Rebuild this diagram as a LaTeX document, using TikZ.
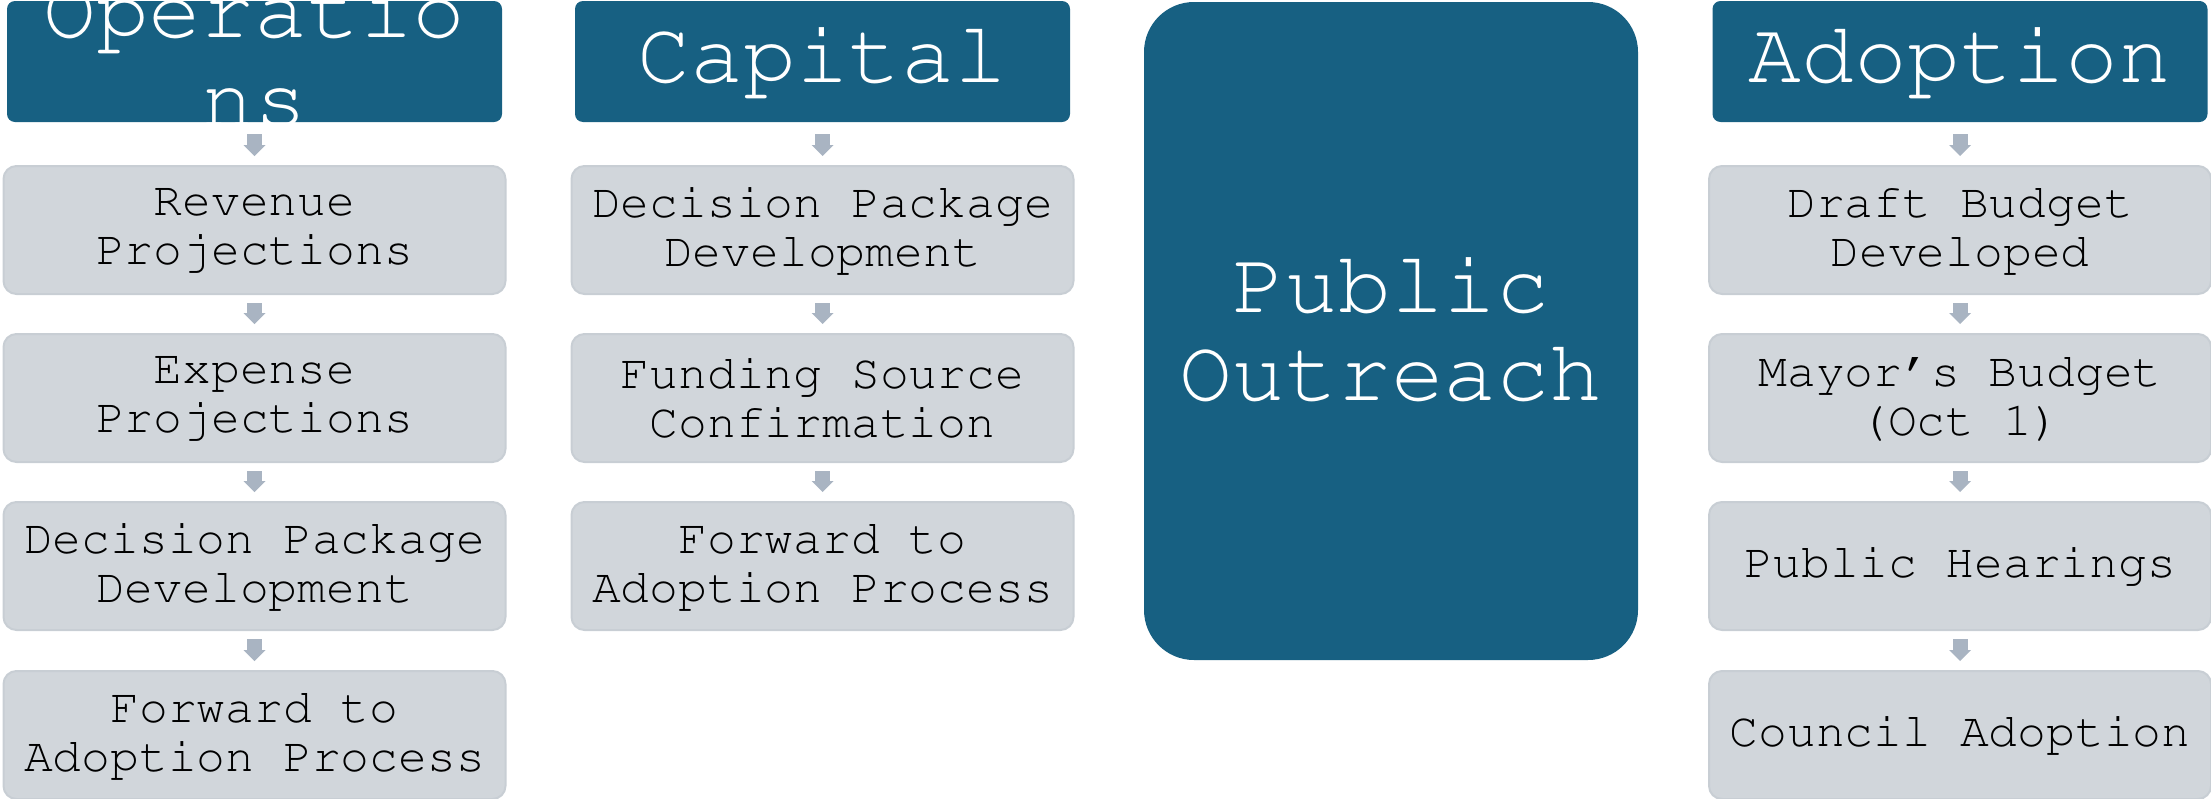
\documentclass[tikz,border=0pt]{standalone}
\usepackage[T1]{fontenc}
\usetikzlibrary{arrows.meta}
\newcommand\courfont{\fontencoding{T1}\fontfamily{pcr}\fontseries{m}\fontshape{n}}
\definecolor{hdrblue}{RGB}{23,96,130}
\definecolor{boxgray}{RGB}{209,214,219}
\definecolor{boxedge}{RGB}{200,206,212}
\definecolor{arrowgray}{RGB}{169,180,194}
\tikzset{
  hdr/.style={rectangle, rounded corners=4pt, fill=hdrblue, text=white,
    minimum width=247.5pt, minimum height=60.5pt, inner sep=0pt, outer sep=0pt,
    align=center, font=\courfont\fontsize{44pt}{44pt}\selectfont},
  hdrtext/.style={text=white, inner sep=0pt, outer sep=0pt,
    font=\courfont\fontsize{44pt}{44pt}\selectfont},
  stepbox/.style={rectangle, rounded corners=6.5pt, fill=boxgray, draw=boxedge,
    line width=1pt, minimum width=251pt, minimum height=64pt, inner sep=0pt,
    outer sep=0pt, align=center, text=black,
    font=\courfont\fontsize{24pt}{24.5pt}\selectfont},
  twoline/.style={execute at begin node={\rule{0pt}{17pt}}},
  bigbox/.style={rectangle, rounded corners=25pt, fill=hdrblue, text=white,
    minimum width=247pt, minimum height=329pt, inner sep=0pt, outer sep=0pt,
    align=center, font=\courfont\fontsize{44pt}{44pt}\selectfont},
  conn/.style={draw=arrowgray, line width=7.5pt, shorten <=4.5pt, shorten >=5pt,
    -{Triangle[width=11pt,length=5.5pt,line width=0pt]}},
  hconn/.style={conn, shorten <=6pt},
}
\begin{document}
\begin{tikzpicture}[x=0.5pt,y=-0.5pt]
\useasboundingbox (0,0) rectangle (2211,798);

% Operations column
\node[hdr] (ops) at (254.5,61.5) {};
\begin{scope}
  \clip[rounded corners=4pt] (ops.south west) rectangle (ops.north east);
  \node[hdrtext, anchor=base] (opsA) at (254.5,37) {Operatio};
  \node[hdrtext, anchor=base] (opsB) at (254.5,126) {ns};
\end{scope}
\node[stepbox, twoline] (o1) at (254.5,230) {Revenue\\Projections};
\node[stepbox, twoline] (o2) at (254.5,398) {Expense\\Projections};
\node[stepbox, twoline] (o3) at (254.5,566) {Decision Package\\Development};
\node[stepbox, twoline] (o4) at (254.5,735) {Forward to\\Adoption Process};

% Capital column
\node[hdr] (cap) at (822.5,61.5) {Capital};
\node[stepbox, twoline] (c1) at (822.5,230) {Decision Package\\Development};
\node[stepbox, twoline] (c2) at (822.5,398) {Funding Source\\Confirmation};
\node[stepbox, twoline] (c3) at (822.5,566) {Forward to\\Adoption Process};

% Public outreach
\node[bigbox] (pub) at (1391,331) {Public\\Outreach\rule[-3pt]{0pt}{3pt}};

% Adoption column
\node[hdr] (adp) at (1960,61.5) {Adoption};
\node[stepbox, twoline] (a1) at (1960,230) {Draft Budget\\Developed};
\node[stepbox, twoline] (a2) at (1960,398) {Mayor's Budget\\(Oct 1)};
\node[stepbox] (a3) at (1960,566) {Public Hearings};
\node[stepbox] (a4) at (1960,735) {Council Adoption};

% connectors
\draw[hconn] (ops.south) -- (o1.north);
\draw[conn] (o1.south) -- (o2.north);
\draw[conn] (o2.south) -- (o3.north);
\draw[conn] (o3.south) -- (o4.north);

\draw[hconn] (cap.south) -- (c1.north);
\draw[conn] (c1.south) -- (c2.north);
\draw[conn] (c2.south) -- (c3.north);

\draw[hconn] (adp.south) -- (a1.north);
\draw[conn] (a1.south) -- (a2.north);
\draw[conn] (a2.south) -- (a3.north);
\draw[conn] (a3.south) -- (a4.north);
\end{tikzpicture}
\end{document}
